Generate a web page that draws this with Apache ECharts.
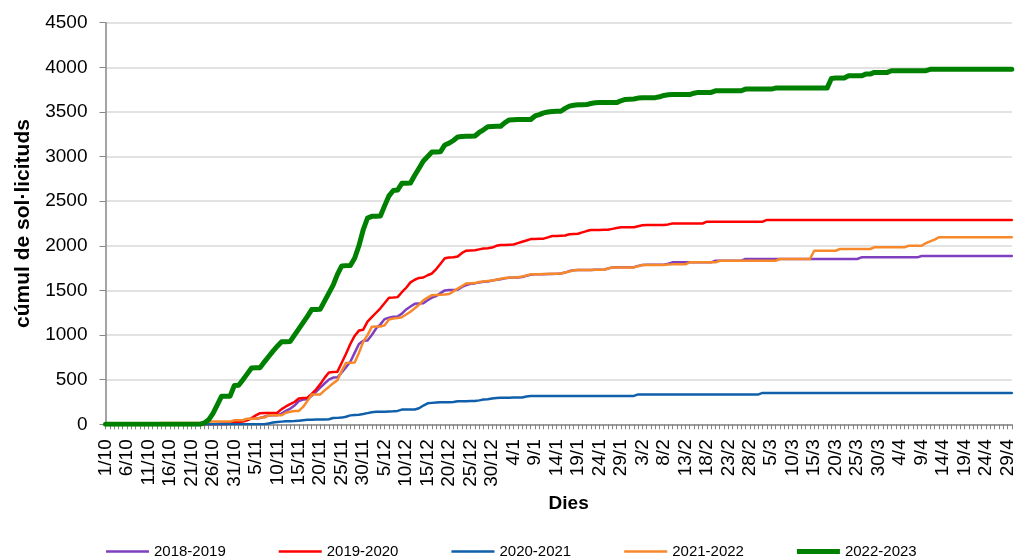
<!DOCTYPE html>
<html><head><meta charset="utf-8">
<script src="https://cdn.jsdelivr.net/npm/echarts@6/dist/echarts.min.js"></script>
<style>html,body{margin:0;padding:0;background:#fff}#c{width:1017px;height:558px}</style>
</head><body><div id="c"></div>
<script>
// Day labels 1/10 .. 30/4 (month, days in month)
const monthDays = [[10,31],[11,30],[12,31],[1,31],[2,28],[3,31],[4,30]];
const categories = [];
monthDays.forEach(function(md){for(let d=1; d<=md[1]; d++) categories.push(d+'/'+md[0]);});

const seriesNames = ['2018-2019','2019-2020','2020-2021','2021-2022','2022-2023'];
const seriesColors = ['#7F3FBF','#FF0000','#0F5FAA','#F7892B','#008000'];

const s2018 = [
0,0,0,0,0,0,0,0,0,0,
0,0,0,0,0,0,0,0,0,0,
0,0,0,0,0,0,5,10,15,20,
25,35,45,55,62,63,70,85,100,101,
102,120,150,175,210,260,277,280,320,364,
410,457,500,524,526,580,640,700,800,900,
935,940,1000,1074,1120,1179,1195,1205,1208,1240,
1287,1320,1350,1354,1356,1390,1420,1437,1470,1500,
1504,1506,1508,1540,1560,1575,1579,1590,1597,1600,
1610,1620,1625,1635,1642,1645,1646,1650,1665,1675,
1680,1681,1682,1683,1685,1686,1690,1700,1717,1725,
1728,1728,1729,1730,1731,1732,1732,1745,1758,1760,
1760,1760,1760,1760,1775,1785,1787,1787,1787,1787,
1787,1800,1815,1815,1815,1815,1815,1815,1815,1815,
1815,1815,1833,1833,1833,1833,1833,1833,1833,1852,
1852,1852,1852,1852,1852,1852,1852,1852,1852,1852,
1852,1852,1852,1852,1852,1852,1852,1852,1852,1852,
1852,1852,1852,1852,1852,1852,1871,1871,1871,1871,
1871,1871,1871,1871,1871,1871,1871,1871,1871,1871,
1886,1886,1886,1886,1886,1886,1886,1886,1886,1886,
1886,1886,1886,1886,1886,1886,1886,1886,1886,1886,
1886,1886];

const s2019 = [
0,0,0,0,0,0,0,0,0,0,
0,0,0,0,0,0,0,0,0,0,
0,0,0,0,0,0,0,0,0,20,
25,25,30,45,70,100,125,127,127,127,
130,170,200,225,250,290,295,298,340,390,
450,520,580,585,590,690,790,900,990,1050,
1060,1150,1200,1250,1300,1360,1418,1420,1425,1480,
1530,1590,1620,1640,1645,1670,1690,1740,1800,1860,
1870,1872,1880,1920,1945,1948,1950,1960,1970,1972,
1980,2000,2009,2010,2012,2015,2030,2046,2060,2075,
2076,2078,2080,2095,2110,2110,2112,2115,2130,2132,
2135,2150,2165,2177,2177,2178,2179,2180,2190,2200,
2207,2208,2208,2208,2220,2230,2233,2233,2233,2233,
2233,2240,2250,2250,2250,2250,2250,2250,2250,2250,
2271,2271,2271,2271,2271,2271,2271,2271,2271,2271,
2271,2271,2271,2271,2290,2290,2290,2290,2290,2290,
2290,2290,2290,2290,2290,2290,2290,2290,2290,2290,
2290,2290,2290,2290,2290,2290,2290,2290,2290,2290,
2290,2290,2290,2290,2290,2290,2290,2290,2290,2290,
2290,2290,2290,2290,2290,2290,2290,2290,2290,2290,
2290,2290,2290,2290,2290,2290,2290,2290,2290,2290,
2290,2290];

const s2020 = [
0,0,0,0,0,0,0,0,0,0,
0,0,0,0,0,0,0,0,0,0,
0,0,0,0,0,0,0,0,0,0,
0,0,0,0,0,0,0,0,10,20,
25,30,35,35,36,40,45,50,52,53,
54,55,56,70,72,75,85,100,105,108,
115,125,135,140,142,142,144,145,150,165,
165,165,166,180,210,235,240,245,247,247,
248,250,258,258,258,260,262,268,277,280,
288,295,297,297,298,299,300,300,312,318,
318,318,318,318,318,318,318,318,318,318,
318,318,318,318,318,318,318,318,318,318,
318,318,318,318,335,335,335,335,335,335,
335,335,335,335,335,335,335,335,335,335,
335,335,335,335,335,335,335,335,335,335,
335,335,335,352,352,352,352,352,352,352,
352,352,352,352,352,352,352,352,352,352,
352,352,352,352,352,352,352,352,352,352,
352,352,352,352,352,352,352,352,352,352,
352,352,352,352,352,352,352,352,352,352,
352,352,352,352,352,352,352,352,352,352,
352,352];

const s2021 = [
0,0,0,0,0,0,0,0,0,0,
0,0,0,15,15,15,15,15,15,15,
15,15,15,20,28,30,30,30,30,30,
45,45,45,63,63,63,75,75,101,101,
101,101,130,140,150,150,195,260,333,333,
335,380,419,460,494,600,688,690,692,800,
924,1000,1092,1095,1095,1110,1175,1186,1190,1200,
1230,1261,1300,1340,1390,1420,1447,1450,1452,1455,
1460,1490,1520,1550,1579,1580,1582,1595,1600,1605,
1610,1620,1630,1640,1645,1646,1648,1655,1668,1680,
1681,1682,1683,1684,1686,1688,1690,1700,1712,1725,
1728,1728,1729,1730,1731,1732,1732,1745,1758,1758,
1758,1758,1758,1758,1770,1785,1785,1785,1785,1785,
1785,1790,1792,1792,1792,1792,1815,1815,1815,1815,
1815,1815,1815,1833,1833,1833,1833,1833,1833,1833,
1833,1833,1833,1833,1833,1833,1833,1852,1852,1852,
1852,1852,1852,1852,1852,1945,1945,1945,1945,1945,
1945,1964,1964,1964,1964,1964,1964,1964,1964,1983,
1983,1983,1983,1983,1983,1983,1983,2001,2001,2001,
2001,2030,2050,2070,2095,2095,2095,2095,2095,2095,
2095,2095,2095,2095,2095,2095,2095,2095,2095,2095,
2095,2095];

const s2022 = [
0,0,0,0,0,0,0,0,0,0,
0,0,0,0,0,0,0,0,0,0,
0,0,0,15,50,120,215,313,315,315,
435,437,500,565,630,633,635,700,760,820,
875,925,925,928,1000,1070,1140,1210,1285,1287,
1290,1380,1470,1560,1680,1775,1778,1780,1860,2000,
2180,2310,2330,2332,2335,2450,2560,2620,2625,2700,
2702,2705,2790,2870,2950,3000,3050,3052,3055,3130,
3150,3180,3220,3225,3227,3228,3230,3270,3300,3335,
3338,3340,3340,3380,3410,3412,3414,3415,3415,3416,
3455,3470,3490,3500,3505,3507,3508,3540,3565,3575,
3580,3580,3582,3595,3603,3605,3605,3605,3605,3605,
3625,3640,3642,3645,3655,3660,3660,3660,3660,3670,
3685,3692,3695,3695,3695,3695,3695,3710,3719,3719,
3719,3719,3737,3737,3737,3737,3737,3737,3737,3756,
3756,3756,3756,3756,3756,3756,3767,3767,3767,3767,
3767,3767,3767,3767,3767,3767,3767,3767,3767,3875,
3880,3880,3880,3905,3905,3905,3905,3924,3924,3943,
3943,3943,3943,3962,3962,3962,3962,3962,3962,3962,
3962,3962,3977,3977,3977,3977,3977,3977,3977,3977,
3977,3977,3977,3977,3977,3977,3977,3977,3977,3977,
3977,3977];

const yTicks = {min:0, max:4500, interval:500};
const seriesData = [s2018, s2019, s2020, s2021, s2022];
const lineWidths = [2.5, 2.5, 2.5, 2.5, 5];

const chart = echarts.init(document.getElementById('c'), null, {renderer:'canvas'});
const FONT = '"Liberation Sans", Arial, sans-serif';
chart.setOption({
  animation:false,
  textStyle:{fontFamily:FONT},
  grid:{left:105.5, right:-1, top:22.7, bottom:133.7, containLabel:false},
  legend:{
    left:106, top:544, padding:0, itemWidth:43, itemHeight:14, itemGap:53,
    textStyle:{fontSize:15, color:'#000', fontFamily:FONT},
    data: seriesNames.map(function(n,k){
      return {name:n, icon:'path://M0,0H43V' + lineWidths[k] + 'H0Z'};
    })
  },
  xAxis:{
    type:'category', data:categories, boundaryGap:false,
    name:'Dies', nameLocation:'middle', nameGap:65,
    nameTextStyle:{fontSize:19, fontWeight:'bold', color:'#000', fontFamily:FONT, padding:[0,0,0,20]},
    axisLine:{lineStyle:{color:'#868686', width:1.5}},
    axisTick:{interval:0, length:5, lineStyle:{color:'#868686', width:1}},
    axisLabel:{interval:4, rotate:90, fontSize:19, color:'#000', margin:15, fontFamily:FONT},
    splitLine:{show:false}
  },
  yAxis:{
    type:'value', min:yTicks.min, max:yTicks.max, interval:yTicks.interval,
    name:'cúmul de sol·licituds', nameLocation:'middle', nameGap:72, nameRotate:90,
    nameTextStyle:{fontSize:21, fontWeight:'bold', color:'#000', fontFamily:FONT},
    axisLine:{show:true, lineStyle:{color:'#868686', width:1.5}},
    axisTick:{show:true, length:6, lineStyle:{color:'#868686'}},
    axisLabel:{fontSize:19, color:'#000', margin:18, fontFamily:FONT,
      formatter:function(v){return String(v);}},
    splitLine:{lineStyle:{color:'#d9d9d9', width:1.5}}
  },
  series: seriesNames.map(function(n,k){
    return {
      name:n, type:'line', data:seriesData[k], symbol:'none', showSymbol:false,
      lineStyle:{color:seriesColors[k], width:lineWidths[k], cap:'round', join:'round'},
      itemStyle:{color:seriesColors[k]},
      z: 2 + k
    };
  })
});
</script>
</body></html>
